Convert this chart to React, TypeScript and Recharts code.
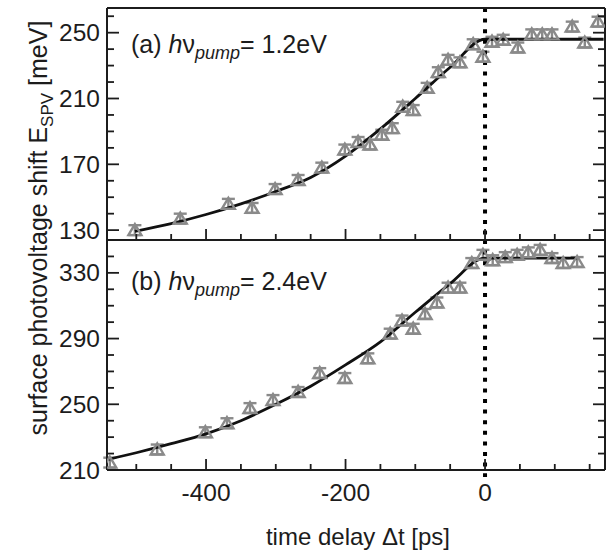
import { ComposedChart, Line, Scatter, XAxis, YAxis, ErrorBar, ReferenceLine } from 'recharts';

const FONT = '"Liberation Sans", Arial, Helvetica, sans-serif';
const INK = '#1c1c1c';
const GREY = '#8a8a8a';

const xTicks = [-500, -450, -400, -350, -300, -250, -200, -150, -100, -50, 0, 50, 100, 150];
const topYTicks = [130, 140, 150, 160, 170, 180, 190, 200, 210, 220, 230, 240, 250, 260];
const botYTicks = [210, 220, 230, 240, 250, 260, 270, 280, 290, 300, 310, 320, 330, 340, 350];

// panel (a): hv = 1.2 eV
const delayA = [-502, -437, -368, -334, -301, -268, -234, -201, -182, -165, -148, -133, -118, -103, -83, -67, -53, -36, -17, -3, 10, 26, 47, 67, 82, 96, 125, 143, 162];
const shiftA = [130, 137, 146, 143.5, 155, 160.5, 168, 179, 183.6, 182, 188, 192, 205, 203, 216.5, 226, 233.5, 232, 243, 235.4, 244.5, 245.7, 241, 249, 249, 249, 253.7, 244, 256.7];
const errA = [3, 3, 3, 3, 3, 3, 3, 3, 3, 3, 3, 3, 3, 3, 3, 3, 3, 3, 3, 3, 3, 3, 3, 3, 3, 3, 3, 3, 3];
const fitDelayA = [-502, -450, -400, -350, -300, -250, -200, -150, -100, -50, 0, 170];
const fitShiftA = [129.3, 134, 139.5, 146, 153.5, 162, 175, 191.5, 210, 229, 246, 246];

// panel (b): hv = 2.4 eV
const delayB = [-538, -470, -401, -370, -337, -304, -268, -237, -201, -168, -136, -119, -103, -86, -69, -53, -36, -19, -3, 11, 29, 46, 62, 79, 96, 112, 132];
const shiftB = [214.5, 222.5, 233, 238.5, 247.7, 252.6, 257.5, 269, 266, 278, 293, 301, 296, 305, 312, 321, 321, 336, 341, 337.7, 339.6, 341, 342.5, 344, 339, 336, 336.6];
const errB = [3, 3, 3, 3, 3, 3, 3, 3, 3, 3, 3, 3, 3, 3, 3, 3, 3, 3, 3, 3, 3, 3, 3, 3, 3, 3, 3];
const fitDelayB = [-540, -500, -450, -400, -350, -300, -250, -200, -150, -100, -50, 0, 132];
const fitShiftB = [216.5, 220.5, 226, 232, 240, 250, 261, 274, 288, 306, 323.5, 339, 339];

const pointsA = delayA.map((t, i) => ({ t, e: shiftA[i], err: errA[i] }));
const fitA = fitDelayA.map((t, i) => ({ t, e: fitShiftA[i] }));
const pointsB = delayB.map((t, i) => ({ t, e: shiftB[i], err: errB[i] }));
const fitB = fitDelayB.map((t, i) => ({ t, e: fitShiftB[i] }));

const X_DOMAIN: [number, number] = [-542, 172];

function xTick(side: 'top' | 'bottom', withLabel: boolean) {
  return (props: any) => {
    const { x, y, payload } = props;
    const major = payload.value % 200 === 0;
    const len = major ? 11 : 6;
    const dir = side === 'bottom' ? -1 : 1;
    return (
      <g>
        <line x1={x} x2={x} y1={y} y2={y + dir * len} stroke={INK} strokeWidth={1.8} />
        {withLabel && major && (
          <text x={x} y={y + 31} textAnchor="middle" fontFamily={FONT} fontSize={24.5} fill={INK}>
            {String(payload.value)}
          </text>
        )}
      </g>
    );
  };
}

function yTick(side: 'left' | 'right', base: number) {
  return (props: any) => {
    const { x, y, payload } = props;
    const major = (payload.value - base) % 40 === 0;
    const len = major ? 12 : 7;
    const dir = side === 'left' ? 1 : -1;
    return (
      <g>
        <line x1={x} x2={x + dir * len} y1={y} y2={y} stroke={INK} strokeWidth={1.8} />
        {side === 'left' && major && (
          <text x={x - 7} y={y + 8.5} textAnchor="end" fontFamily={FONT} fontSize={24.5} fill={INK}>
            {String(payload.value)}
          </text>
        )}
      </g>
    );
  };
}

function triangle(props: any) {
  const { cx, cy } = props;
  if (cx == null || cy == null) return <g />;
  const pts = `${cx},${cy - 6} ${cx - 6.5},${cy + 5} ${cx + 6.5},${cy + 5}`;
  return <polygon points={pts} fill="none" stroke={GREY} strokeWidth={2.4} />;
}

function dottedZero(extra: number) {
  return (props: any) => {
    const top = Math.min(props.y1, props.y2);
    const bottom = Math.max(props.y1, props.y2);
    return (
      <line x1={props.x1} x2={props.x2} y1={top} y2={bottom + extra} stroke="#000" strokeWidth={4} strokeDasharray="4 6.6" />
    );
  };
}

interface PanelProps {
  points: { t: number; e: number; err: number }[];
  fit: { t: number; e: number }[];
  yDomain: [number, number];
  yTicks: number[];
  yBase: number;
  bottomLabels: boolean;
  height: number;
  margin: { top: number; right: number; bottom: number; left: number };
  dotExtra: number;
}

function Panel({ points, fit, yDomain, yTicks, yBase, bottomLabels, height, margin, dotExtra }: PanelProps) {
  const axisLine = { stroke: INK, strokeWidth: 2 };
  return (
    <ComposedChart width={606} height={height} margin={margin}>
      <XAxis
        dataKey="t"
        type="number"
        domain={X_DOMAIN}
        ticks={xTicks}
        interval={0}
        height={1}
        tickSize={0}
        tickMargin={0}
        tickLine={false}
        axisLine={axisLine}
        tick={xTick('bottom', bottomLabels)}
        allowDataOverflow
      />
      <XAxis
        xAxisId="top"
        orientation="top"
        type="number"
        domain={X_DOMAIN}
        ticks={xTicks}
        interval={0}
        height={1}
        tickSize={0}
        tickMargin={0}
        tickLine={false}
        axisLine={axisLine}
        tick={xTick('top', false)}
        allowDataOverflow
      />
      <YAxis
        dataKey="e"
        type="number"
        domain={yDomain}
        ticks={yTicks}
        interval={0}
        width={1}
        tickSize={0}
        tickMargin={0}
        tickLine={false}
        axisLine={axisLine}
        tick={yTick('left', yBase)}
        allowDataOverflow
      />
      <YAxis
        yAxisId="r"
        orientation="right"
        type="number"
        domain={yDomain}
        ticks={yTicks}
        interval={0}
        width={1}
        tickSize={0}
        tickMargin={0}
        tickLine={false}
        axisLine={axisLine}
        tick={yTick('right', yBase)}
        allowDataOverflow
      />
      <Scatter data={points} shape={triangle} isAnimationActive={false}>
        <ErrorBar dataKey="err" direction="y" width={6.5} stroke={GREY} strokeWidth={2.4} />
      </Scatter>
      <Line
        data={fit}
        dataKey="e"
        type="monotone"
        stroke="#111"
        strokeWidth={2.8}
        dot={false}
        activeDot={false}
        isAnimationActive={false}
      />
      <ReferenceLine x={0} ifOverflow="visible" shape={dottedZero(dotExtra)} />
    </ComposedChart>
  );
}

export default function App() {
  return (
    <div style={{ position: 'absolute', left: 0, top: 0, width: 606, height: 555, background: '#fff' }}>
      <div style={{ position: 'absolute', left: 0, top: 0 }}>
        <Panel
          points={pointsA}
          fit={fitA}
          yDomain={[124, 265]}
          yTicks={topYTicks}
          yBase={130}
          bottomLabels={false}
          height={250}
          margin={{ top: 7, right: 0, bottom: 9, left: 106 }}
          dotExtra={0}
        />
      </div>
      <div style={{ position: 'absolute', left: 0, top: 230 }}>
        <Panel
          points={pointsB}
          fit={fitB}
          yDomain={[210, 350]}
          yTicks={botYTicks}
          yBase={210}
          bottomLabels={true}
          height={325}
          margin={{ top: 9, right: 0, bottom: 84, left: 106 }}
          dotExtra={7}
        />
      </div>
      <svg width={606} height={555} style={{ position: 'absolute', left: 0, top: 0, pointerEvents: 'none' }}>
        <text x={131} y={53} fontFamily={FONT} fontSize={25} fill={INK}>
          (a) <tspan fontStyle="italic">h</tspan>ν
          <tspan fontStyle="italic" fontSize={18} dy={6}>pump</tspan>
          <tspan dy={-6}>= 1.2eV</tspan>
        </text>
        <text x={131} y={290} fontFamily={FONT} fontSize={25} fill={INK}>
          (b) <tspan fontStyle="italic">h</tspan>ν
          <tspan fontStyle="italic" fontSize={18} dy={6}>pump</tspan>
          <tspan dy={-6}>= 2.4eV</tspan>
        </text>
        <text x={358} y={545} textAnchor="middle" fontFamily={FONT} fontSize={24} fill={INK}>
          time delay Δt [ps]
        </text>
        <text x={47} y={228} textAnchor="middle" transform="rotate(-90 47 228)" fontFamily={FONT} fontSize={25} fill={INK}>
          surface photovoltage shift E<tspan fontSize={17} dy={6}>SPV</tspan>
          <tspan dy={-6}> [meV]</tspan>
        </text>
      </svg>
    </div>
  );
}
